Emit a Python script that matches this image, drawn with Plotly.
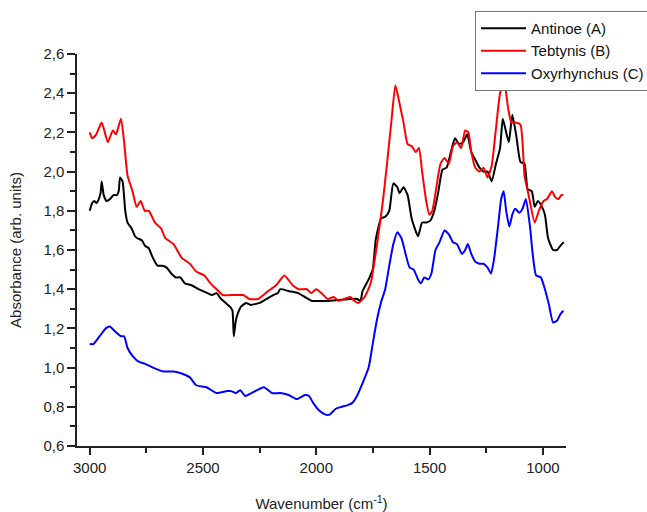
import plotly.graph_objects as go

# Antinoe (A)
wn_a = [3000, 2989, 2980, 2970, 2960, 2952, 2947, 2938, 2925, 2910, 2895, 2880, 2872, 2866, 2855, 2843, 2833, 2815,
        2800, 2790, 2770, 2755, 2740, 2725, 2712, 2700, 2680, 2660, 2640, 2620, 2600, 2580, 2550, 2520, 2500,
        2480, 2460, 2440, 2420, 2400, 2380, 2370, 2364, 2355, 2345, 2333, 2310, 2290, 2250, 2220, 2190, 2170,
        2159, 2120, 2080, 2050, 2020, 2000, 1950, 1900, 1850, 1820, 1805, 1796, 1769, 1751, 1738, 1725, 1715,
        1696, 1678, 1660, 1642, 1633, 1615, 1597, 1579, 1551, 1533, 1515, 1497, 1479, 1461, 1443, 1425, 1406,
        1388, 1370, 1352, 1334, 1316, 1298, 1280, 1262, 1244, 1226, 1207, 1189, 1177, 1162, 1150, 1135, 1117,
        1099, 1081, 1067, 1049, 1036, 1022, 1004, 991, 977, 955, 937, 924, 908]
abs_a = [1.80, 1.84, 1.85, 1.84, 1.86, 1.89, 1.95, 1.88, 1.85, 1.86, 1.88, 1.88, 1.90, 1.97, 1.95, 1.80, 1.74, 1.71,
         1.67, 1.66, 1.65, 1.62, 1.61, 1.57, 1.54, 1.52, 1.52, 1.51, 1.48, 1.46, 1.46, 1.43, 1.42, 1.40, 1.39,
         1.38, 1.37, 1.38, 1.35, 1.33, 1.31, 1.29, 1.16, 1.24, 1.28, 1.31, 1.33, 1.32, 1.33, 1.35, 1.37, 1.38,
         1.40, 1.39, 1.38, 1.36, 1.34, 1.34, 1.34, 1.345, 1.35, 1.35, 1.34, 1.39, 1.45, 1.50, 1.65, 1.72, 1.76,
         1.77, 1.80, 1.94, 1.92, 1.89, 1.92, 1.88, 1.76, 1.67, 1.74, 1.74, 1.75, 1.80, 1.90, 2.01, 2.02, 2.10,
         2.17, 2.14, 2.15, 2.19, 2.10, 2.06, 2.02, 2.00, 2.00, 1.95, 2.04, 2.12, 2.27, 2.20, 2.15, 2.29, 2.18,
         2.05, 2.04, 1.91, 1.90, 1.82, 1.85, 1.82, 1.78, 1.66, 1.60, 1.60, 1.62, 1.64]

# Tebtynis (B)
wn_b = [3000, 2989, 2971, 2947, 2920, 2898, 2884, 2862, 2848, 2833, 2811, 2793, 2775, 2757, 2739, 2712, 2685,
        2666, 2630, 2594, 2558, 2530, 2494, 2467, 2440, 2413, 2376, 2322, 2295, 2258, 2213, 2177, 2141, 2104,
        2077, 2041, 2023, 2000, 1977, 1950, 1923, 1901, 1878, 1850, 1832, 1814, 1787, 1760, 1733, 1706, 1687,
        1669, 1651, 1633, 1615, 1597, 1579, 1561, 1547, 1533, 1515, 1501, 1488, 1470, 1452, 1434, 1415, 1397,
        1379, 1361, 1343, 1329, 1316, 1298, 1280, 1262, 1244, 1226, 1207, 1189, 1171, 1153, 1139, 1121, 1099,
        1081, 1063, 1036, 1018, 997, 982, 960, 946, 931, 919, 910]
abs_b = [2.20, 2.17, 2.19, 2.25, 2.15, 2.21, 2.19, 2.27, 2.15, 1.98, 1.90, 1.82, 1.85, 1.80, 1.80, 1.74, 1.71,
         1.66, 1.63, 1.56, 1.53, 1.49, 1.47, 1.43, 1.40, 1.37, 1.37, 1.37, 1.35, 1.35, 1.39, 1.42, 1.47, 1.42,
         1.40, 1.40, 1.38, 1.40, 1.38, 1.35, 1.36, 1.34, 1.35, 1.36, 1.34, 1.33, 1.36, 1.43, 1.62, 1.85, 2.05,
         2.25, 2.44, 2.35, 2.25, 2.14, 2.13, 2.10, 2.12, 2.00, 1.85, 1.78, 1.80, 1.92, 2.04, 2.07, 2.04, 2.13,
         2.15, 2.12, 2.21, 2.20, 2.10, 2.02, 2.00, 2.02, 1.97, 2.03, 2.22, 2.40, 2.46, 2.32, 2.25, 2.25, 2.24,
         1.98, 1.88, 1.74, 1.80, 1.85, 1.86, 1.90, 1.87, 1.86, 1.88, 1.88]

# Oxyrhynchus (C)
wn_c = [3000, 2984, 2956, 2929, 2911, 2884, 2862, 2848, 2833, 2811, 2784, 2757, 2721, 2675, 2630, 2594, 2558,
        2530, 2485, 2440, 2394, 2376, 2355, 2336, 2313, 2286, 2231, 2195, 2159, 2122, 2086, 2050, 2032, 2014,
        1986, 1959, 1941, 1914, 1887, 1859, 1841, 1823, 1796, 1769, 1751, 1733, 1715, 1696, 1678, 1660, 1642,
        1624, 1606, 1588, 1570, 1551, 1538, 1524, 1506, 1492, 1474, 1456, 1434, 1415, 1397, 1379, 1357, 1343,
        1331, 1316, 1298, 1280, 1262, 1244, 1229, 1216, 1198, 1184, 1173, 1162, 1148, 1135, 1122, 1104, 1090,
        1075, 1057, 1045, 1030, 1009, 991, 973, 955, 937, 924, 910]
abs_c = [1.12, 1.12, 1.16, 1.20, 1.21, 1.18, 1.16, 1.16, 1.10, 1.06, 1.03, 1.02, 1.00, 0.98, 0.98, 0.97, 0.95,
         0.91, 0.90, 0.87, 0.88, 0.88, 0.87, 0.885, 0.855, 0.87, 0.90, 0.87, 0.87, 0.86, 0.84, 0.86, 0.855, 0.82,
         0.78, 0.76, 0.76, 0.79, 0.80, 0.81, 0.82, 0.85, 0.92, 1.00, 1.12, 1.24, 1.33, 1.40, 1.52, 1.63, 1.69,
         1.66, 1.58, 1.51, 1.50, 1.45, 1.43, 1.46, 1.45, 1.48, 1.60, 1.64, 1.70, 1.68, 1.64, 1.63, 1.58, 1.60,
         1.63, 1.58, 1.54, 1.53, 1.53, 1.51, 1.48, 1.55, 1.72, 1.86, 1.90, 1.80, 1.72, 1.78, 1.81, 1.79, 1.81,
         1.86, 1.72, 1.58, 1.47, 1.46, 1.40, 1.32, 1.23, 1.24, 1.27, 1.29]

x_ticks = [3000, 2500, 2000, 1500, 1000]
x_minor = [2750, 2250, 1750, 1250]

series = [
    ("Antinoe (A)", wn_a, abs_a, "#000000"),
    ("Tebtynis (B)", wn_b, abs_b, "#ff0000"),
    ("Oxyrhynchus (C)", wn_c, abs_c, "#0000ff"),
]

fig = go.Figure()
for name, x, y, col in series:
    fig.add_trace(go.Scatter(x=x, y=y, name=name, mode="lines",
                             line=dict(color=col, width=2, shape="spline", smoothing=0.5)))

fig.update_layout(
    width=647, height=512,
    margin=dict(l=77, r=81, t=54, b=66, autoexpand=False),
    plot_bgcolor="white", paper_bgcolor="white",
    separators=", ",
    font=dict(family="Liberation Sans, Arial, sans-serif", size=15, color="#222"),
    showlegend=True,
    legend=dict(x=0.814, y=1.11, xanchor="left", yanchor="top",
                bordercolor="#777", borderwidth=1, bgcolor="white",
                font=dict(size=15, color="#111"), tracegroupgap=0,
                itemwidth=45),
    xaxis=dict(range=[3056, 898], tickvals=x_ticks,
               ticktext=[str(v) for v in x_ticks],
               ticks="outside", ticklen=7, tickwidth=1.5, tickcolor="#222",
               showline=True, linecolor="#222", linewidth=1.5, showgrid=False, zeroline=False,
               tickfont=dict(size=15),
               minor=dict(ticks="outside", tickvals=x_minor, ticklen=5,
                          tickcolor="#222", tickwidth=1.5, showgrid=False),
               title=dict(text="Wavenumber (cm<sup>-1</sup>)", standoff=28, font=dict(size=15))),
    yaxis=dict(range=[0.6, 2.6], dtick=0.2, tick0=0.6, tickformat=".1f",
               ticks="outside", ticklen=8, tickwidth=1.5, tickcolor="#222",
               showline=True, linecolor="#222", linewidth=1.5, showgrid=False, zeroline=False,
               tickfont=dict(size=15),
               minor=dict(ticks="outside", dtick=0.1, ticklen=5, tickcolor="#222", tickwidth=1.5,
                          showgrid=False),
               title=dict(text="Absorbance (arb. units)", standoff=18, font=dict(size=15))),
)

fig.write_html("out.html")
